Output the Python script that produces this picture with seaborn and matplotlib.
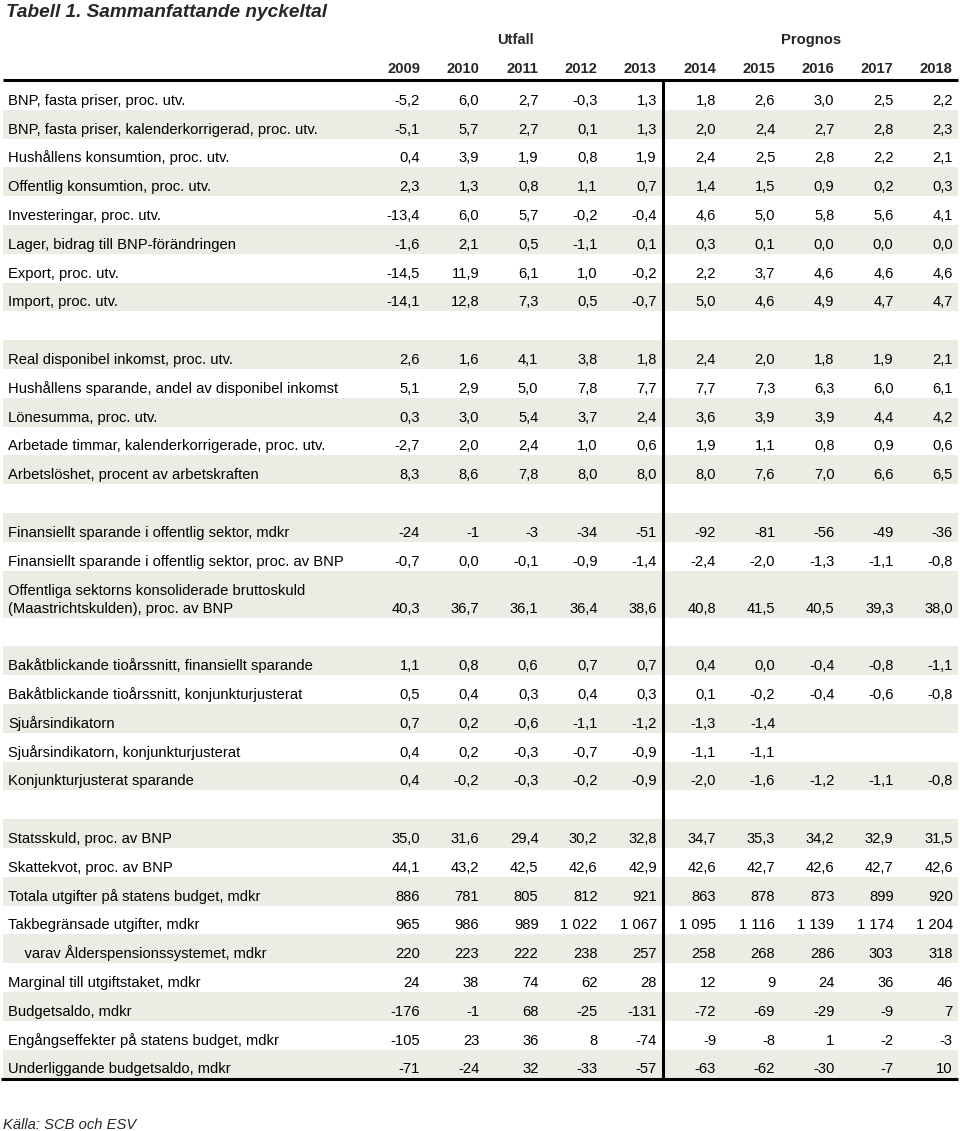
import numpy as np
import pandas as pd

import matplotlib.pyplot as plt
import seaborn as sns

# %% data
years = [2009, 2010, 2011, 2012, 2013, 2014, 2015, 2016, 2017, 2018]
period_labels = ["Utfall", "Prognos"]

macro_labels = [
    "BNP, fasta priser, proc. utv.",
    "BNP, fasta priser, kalenderkorrigerad, proc. utv.",
    "Hushållens konsumtion, proc. utv.",
    "Offentlig konsumtion, proc. utv.",
    "Investeringar, proc. utv.",
    "Lager, bidrag till BNP-förändringen",
    "Export, proc. utv.",
    "Import, proc. utv.",
]
macro_values = [
    [-5.2, 6.0, 2.7, -0.3, 1.3, 1.8, 2.6, 3.0, 2.5, 2.2],
    [-5.1, 5.7, 2.7, 0.1, 1.3, 2.0, 2.4, 2.7, 2.8, 2.3],
    [0.4, 3.9, 1.9, 0.8, 1.9, 2.4, 2.5, 2.8, 2.2, 2.1],
    [2.3, 1.3, 0.8, 1.1, 0.7, 1.4, 1.5, 0.9, 0.2, 0.3],
    [-13.4, 6.0, 5.7, -0.2, -0.4, 4.6, 5.0, 5.8, 5.6, 4.1],
    [-1.6, 2.1, 0.5, -1.1, 0.1, 0.3, 0.1, 0.0, 0.0, 0.0],
    [-14.5, 11.9, 6.1, 1.0, -0.2, 2.2, 3.7, 4.6, 4.6, 4.6],
    [-14.1, 12.8, 7.3, 0.5, -0.7, 5.0, 4.6, 4.9, 4.7, 4.7],
]
macro_decimals = [1, 1, 1, 1, 1, 1, 1, 1]

labour_labels = [
    "Real disponibel inkomst, proc. utv.",
    "Hushållens sparande, andel av disponibel inkomst",
    "Lönesumma, proc. utv.",
    "Arbetade timmar, kalenderkorrigerade, proc. utv.",
    "Arbetslöshet, procent av arbetskraften",
]
labour_values = [
    [2.6, 1.6, 4.1, 3.8, 1.8, 2.4, 2.0, 1.8, 1.9, 2.1],
    [5.1, 2.9, 5.0, 7.8, 7.7, 7.7, 7.3, 6.3, 6.0, 6.1],
    [0.3, 3.0, 5.4, 3.7, 2.4, 3.6, 3.9, 3.9, 4.4, 4.2],
    [-2.7, 2.0, 2.4, 1.0, 0.6, 1.9, 1.1, 0.8, 0.9, 0.6],
    [8.3, 8.6, 7.8, 8.0, 8.0, 8.0, 7.6, 7.0, 6.6, 6.5],
]
labour_decimals = [1, 1, 1, 1, 1]

public_labels = [
    "Finansiellt sparande i offentlig sektor, mdkr",
    "Finansiellt sparande i offentlig sektor, proc. av BNP",
    "Offentliga sektorns konsoliderade bruttoskuld\n(Maastrichtskulden), proc. av BNP",
]
public_values = [
    [-24, -1, -3, -34, -51, -92, -81, -56, -49, -36],
    [-0.7, 0.0, -0.1, -0.9, -1.4, -2.4, -2.0, -1.3, -1.1, -0.8],
    [40.3, 36.7, 36.1, 36.4, 38.6, 40.8, 41.5, 40.5, 39.3, 38.0],
]
public_decimals = [0, 1, 1]

target_labels = [
    "Bakåtblickande tioårssnitt, finansiellt sparande",
    "Bakåtblickande tioårssnitt, konjunkturjusterat",
    "Sjuårsindikatorn",
    "Sjuårsindikatorn, konjunkturjusterat",
    "Konjunkturjusterat sparande",
]
target_values = [
    [1.1, 0.8, 0.6, 0.7, 0.7, 0.4, 0.0, -0.4, -0.8, -1.1],
    [0.5, 0.4, 0.3, 0.4, 0.3, 0.1, -0.2, -0.4, -0.6, -0.8],
    [0.7, 0.2, -0.6, -1.1, -1.2, -1.3, -1.4, None, None, None],
    [0.4, 0.2, -0.3, -0.7, -0.9, -1.1, -1.1, None, None, None],
    [0.4, -0.2, -0.3, -0.2, -0.9, -2.0, -1.6, -1.2, -1.1, -0.8],
]
target_decimals = [1, 1, 1, 1, 1]

budget_labels = [
    "Statsskuld, proc. av BNP",
    "Skattekvot, proc. av BNP",
    "Totala utgifter på statens budget, mdkr",
    "Takbegränsade utgifter, mdkr",
    "    varav Ålderspensionssystemet, mdkr",
    "Marginal till utgiftstaket, mdkr",
    "Budgetsaldo, mdkr",
    "Engångseffekter på statens budget, mdkr",
    "Underliggande budgetsaldo, mdkr",
]
budget_values = [
    [35.0, 31.6, 29.4, 30.2, 32.8, 34.7, 35.3, 34.2, 32.9, 31.5],
    [44.1, 43.2, 42.5, 42.6, 42.9, 42.6, 42.7, 42.6, 42.7, 42.6],
    [886, 781, 805, 812, 921, 863, 878, 873, 899, 920],
    [965, 986, 989, 1022, 1067, 1095, 1116, 1139, 1174, 1204],
    [220, 223, 222, 238, 257, 258, 268, 286, 303, 318],
    [24, 38, 74, 62, 28, 12, 9, 24, 36, 46],
    [-176, -1, 68, -25, -131, -72, -69, -29, -9, 7],
    [-105, 23, 36, 8, -74, -9, -8, 1, -2, -3],
    [-71, -24, 32, -33, -57, -63, -62, -30, -7, 10],
]
budget_decimals = [1, 1, 0, 0, 0, 0, 0, 0, 0]

groups = [
    (macro_labels, macro_values, macro_decimals, False),
    (labour_labels, labour_values, labour_decimals, True),
    (public_labels, public_values, public_decimals, True),
    (target_labels, target_values, target_decimals, True),
    (budget_labels, budget_values, budget_decimals, True),
]


def fmt(v, d):
    if v is None:
        return ""
    if d == 1:
        return f"{v:.1f}".replace(".", ",")
    return f"{v:,.0f}".replace(",", " ")


# %% build row table
ROW_H = 28.8
TALL_H = 47
rows = []
y = 81.0
for gi, (labels, values, decimals, first_shaded) in enumerate(groups):
    if gi > 0:
        y += ROW_H  # blank separator row
    for i, (lab, vals, d) in enumerate(zip(labels, values, decimals)):
        h = TALL_H if "\n" in lab else ROW_H
        shaded = (i % 2 == 0) == first_shaded
        rows.append(dict(label=lab, top=y, height=h, shaded=shaded,
                         cells=[fmt(v, d) for v in vals]))
        y += h
rows = pd.DataFrame(rows)
rows["bottom"] = rows.top + rows.height
table_bottom = rows.bottom.max()

# %% draw
sns.set_theme(style="white")
plt.rcParams["font.family"] = ["Liberation Sans", "DejaVu Sans"]
FS = 10.6

fig = plt.figure(figsize=(9.6, 11.31), dpi=100)
ax = fig.add_axes([0, 0, 1, 1])
ax.set_xlim(0, 960)
ax.set_ylim(1131, 0)
ax.axis("off")

left, right = 3, 958
col_right = 420 + 59.2 * np.arange(len(years))
split_x = (col_right[4] + col_right[5]) / 2 - 23

shade = rows[rows.shaded]
ax.barh(shade.top + shade.height / 2, right - left, left=left,
        height=shade.height, color="#ECEBE4", linewidth=0)

for _, r in rows.iterrows():
    lines = r.label.split("\n")
    for k, line in enumerate(lines):
        ax.text(8, r.bottom - 5 - (len(lines) - 1 - k) * 18, line,
                fontsize=FS, ha="left", va="baseline", color="black")
    for x, s in zip(col_right, r.cells):
        ax.text(x, r.bottom - 5, s, fontsize=FS, ha="right", va="baseline",
                color="black")

# header
for x, yr in zip(col_right, years):
    ax.text(x, 73, str(yr), fontsize=FS, fontweight="bold", ha="right",
            va="baseline")
ax.text(col_right[2] - 23, 44, period_labels[0], fontsize=FS,
        fontweight="bold", ha="center", va="baseline")
ax.text(col_right[7] - 23, 44, period_labels[1], fontsize=FS,
        fontweight="bold", ha="center", va="baseline")

ax.hlines(79.5, left, right, color="black", lw=2.2)
ax.hlines(table_bottom + 1, 1, right, color="black", lw=2.2)
ax.vlines(split_x, 79.5, table_bottom + 1, color="black", lw=2.2)

ax.text(6, 17, "Tabell 1. Sammanfattande nyckeltal", fontsize=13.7,
        fontweight="bold", fontstyle="italic", ha="left", va="baseline")
ax.text(3, 1129, "Källa: SCB och ESV", fontsize=FS, fontstyle="italic",
        ha="left", va="baseline")

fig.savefig("out.png", dpi=100)
